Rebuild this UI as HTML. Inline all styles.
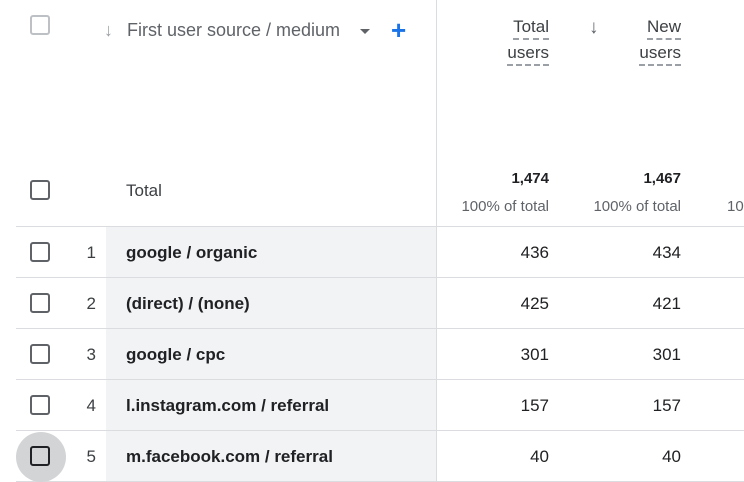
<!DOCTYPE html>
<html><head><style>
body{margin:0;width:744px;height:482px;background:#fff;position:relative;overflow:hidden;font-family:"Liberation Sans",Arial,sans-serif;color:#202124}
.a{position:absolute}
.cb{position:absolute;width:20px;height:20px;border:2px solid #5f6368;border-radius:3px;box-sizing:border-box}
.hl{position:absolute;left:16px;width:728px;height:1px;background:#dadce0}
.num{position:absolute;font-size:17px;text-align:right;color:#202124}
.nm{position:absolute;left:126px;font-size:17px;font-weight:bold;color:#202124}
.idx{position:absolute;left:82px;width:14px;text-align:right;font-size:17px;color:#3c4043}
.dash{border-bottom:2px dashed #9aa0a6;}
</style></head><body>
<div class="a" style="left:106px;top:227px;width:330px;height:255px;background:#f1f3f4"></div>
<div class="a" style="left:436px;top:0;width:1px;height:482px;background:#dadce0"></div>
<div class="cb" style="left:30px;top:15px;border-color:#bdc1c6"></div>
<div class="a" style="left:104px;top:20px;font-size:18px;color:#9aa0a6">&#8595;</div>
<div class="a" style="left:127px;top:20px;font-size:18px;color:#5f6368">First user source / medium</div>
<div class="a" style="left:360px;top:29px;width:0;height:0;border-left:5px solid transparent;border-right:5px solid transparent;border-top:5px solid #5f6368"></div>
<div class="a" style="left:391px;top:15px;font-size:26px;color:#1a73e8;font-weight:bold">+</div>
<div class="a" style="left:505px;top:14px;width:44px;text-align:right;font-size:17px;line-height:25px;color:#3c4043"><span class="dash" style="display:inline-block;line-height:22px">Total</span><br><span class="dash" style="display:inline-block;line-height:22px">users</span></div>
<div class="a" style="left:589px;top:17px;font-size:19px;color:#5f6368;font-weight:bold">&#8595;</div>
<div class="a" style="left:630px;top:14px;width:51px;text-align:right;font-size:17px;line-height:25px;color:#3c4043"><span class="dash" style="display:inline-block;line-height:22px">New</span><br><span class="dash" style="display:inline-block;line-height:22px">users</span></div>
<div class="cb" style="left:30px;top:180px"></div>
<div class="a" style="left:126px;top:181px;font-size:17px;color:#3c4043">Total</div>
<div class="num" style="left:480px;width:69px;top:170px;font-size:15px;font-weight:bold">1,474</div>
<div class="num" style="left:612px;width:69px;top:170px;font-size:15px;font-weight:bold">1,467</div>
<div class="num" style="left:440px;width:109px;top:198px;font-size:15px;color:#5f6368">100% of total</div>
<div class="num" style="left:572px;width:109px;top:198px;font-size:15px;color:#5f6368">100% of total</div>
<div class="a" style="left:727px;top:198px;font-size:15px;color:#5f6368">10</div>
<div class="hl" style="top:226px"></div>
<div class="hl" style="top:277px"></div>
<div class="hl" style="top:328px"></div>
<div class="hl" style="top:379px"></div>
<div class="hl" style="top:430px"></div>
<div class="hl" style="top:481px"></div>
<div class="a" style="left:16px;top:432px;width:50px;height:50px;border-radius:25px;background:#d3d4d6"></div>
<div class="cb" style="left:30px;top:242px"></div>
<div class="cb" style="left:30px;top:293px"></div>
<div class="cb" style="left:30px;top:344px"></div>
<div class="cb" style="left:30px;top:395px"></div>
<div class="cb" style="left:30px;top:446px;border-color:#202124"></div>
<div class="idx" style="top:243px">1</div>
<div class="idx" style="top:294px">2</div>
<div class="idx" style="top:345px">3</div>
<div class="idx" style="top:396px">4</div>
<div class="idx" style="top:447px">5</div>
<div class="nm" style="top:243px">google / organic</div>
<div class="nm" style="top:294px">(direct) / (none)</div>
<div class="nm" style="top:345px">google / cpc</div>
<div class="nm" style="top:396px">l.instagram.com / referral</div>
<div class="nm" style="top:447px">m.facebook.com / referral</div>
<div class="num" style="left:480px;width:69px;top:243px">436</div>
<div class="num" style="left:612px;width:69px;top:243px">434</div>
<div class="num" style="left:480px;width:69px;top:294px">425</div>
<div class="num" style="left:612px;width:69px;top:294px">421</div>
<div class="num" style="left:480px;width:69px;top:345px">301</div>
<div class="num" style="left:612px;width:69px;top:345px">301</div>
<div class="num" style="left:480px;width:69px;top:396px">157</div>
<div class="num" style="left:612px;width:69px;top:396px">157</div>
<div class="num" style="left:480px;width:69px;top:447px">40</div>
<div class="num" style="left:612px;width:69px;top:447px">40</div>
</body></html>
